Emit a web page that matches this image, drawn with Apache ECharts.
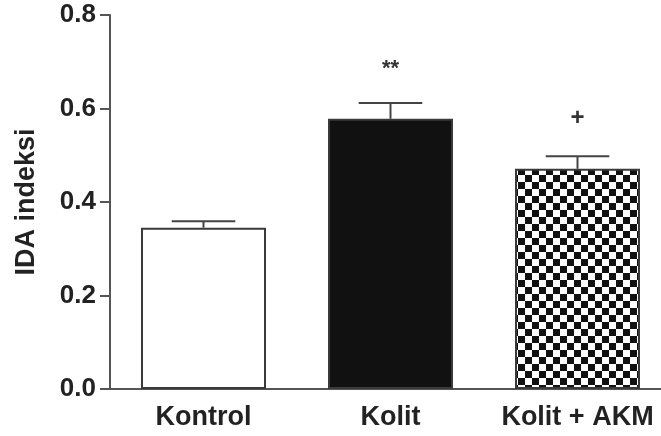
<!DOCTYPE html>
<html>
<head>
<meta charset="utf-8">
<script src="https://cdn.jsdelivr.net/npm/echarts@6/dist/echarts.min.js"></script>
<style>
html,body{margin:0;padding:0;background:#fff;}
#chart{width:661px;height:436px;}
</style>
</head>
<body>
<div id="chart"></div>
<script>
var categories = ['Kontrol', 'Kolit', 'Kolit + AKM'];
var means = [0.345, 0.578, 0.471];
var errors = [0.014, 0.034, 0.027];
var marks = ['', '**', '+'];
var markValues = [null, 0.697, 0.578];
var yTicks = [0, 0.2, 0.4, 0.6, 0.8];

var FONT = '"Liberation Sans", Arial, sans-serif';

// checkerboard pattern
var pc = document.createElement('canvas');
pc.width = 14; pc.height = 14;
var pctx = pc.getContext('2d');
pctx.fillStyle = '#ffffff';
pctx.fillRect(0, 0, 14, 14);
pctx.fillStyle = '#111111';
pctx.fillRect(0, 0, 7, 7);
pctx.fillRect(7, 7, 7, 7);

var barColors = ['#ffffff', '#111111', {image: pc, repeat: 'repeat'}];

var chart = echarts.init(document.getElementById('chart'), null, {renderer: 'canvas'});

var option = {
  animation: false,
  backgroundColor: '#ffffff',
  grid: {left: 110, top: 15, bottom: 47, width: 561, containLabel: false, outerBoundsMode: 'none'},
  xAxis: {
    type: 'category',
    data: categories,
    axisLine: {lineStyle: {color: '#555', width: 2}},
    axisTick: {show: false},
    axisLabel: {interval: 0, color: '#222', fontFamily: FONT, fontWeight: 'bold', fontSize: 27, margin: 15}
  },
  yAxis: {
    type: 'value',
    min: 0, max: 0.8, interval: 0.2,
    name: 'IDA indeksi',
    nameLocation: 'middle',
    nameGap: 70,
    nameTextStyle: {color: '#222', fontFamily: FONT, fontWeight: 'bold', fontSize: 27},
    axisLine: {show: true, lineStyle: {color: '#555', width: 2}},
    axisTick: {show: true, length: 10, lineStyle: {color: '#555', width: 2}},
    splitLine: {show: false},
    axisLabel: {
      color: '#222', fontFamily: FONT, fontWeight: 'bold', fontSize: 26, margin: 14,
      formatter: function (v) { return v.toFixed(1); }
    }
  },
  series: [
    {
      type: 'bar',
      barWidth: 125,
      data: means.map(function (v, i) {
        return {value: v, itemStyle: {color: barColors[i], borderColor: '#3a3a3a', borderWidth: 2}};
      }),
      z: 2
    },
    {
      type: 'custom',
      z: 3,
      data: means.map(function (v, i) { return [i, v, v + errors[i]]; }),
      renderItem: function (params, api) {
        var lo = api.coord([api.value(0), api.value(1)]);
        var hi = api.coord([api.value(0), api.value(2)]);
        var band = api.size([1, 0])[0];
        var hw = band * 0.17;
        var style = {stroke: '#444', lineWidth: 2};
        return {
          type: 'group',
          children: [
            {type: 'line', shape: {x1: lo[0], y1: lo[1], x2: hi[0], y2: hi[1]}, style: style},
            {type: 'line', shape: {x1: hi[0] - hw, y1: hi[1], x2: hi[0] + hw, y2: hi[1]}, style: style}
          ]
        };
      }
    },
    {
      type: 'custom',
      z: 4,
      data: markValues.map(function (v, i) { return [i, v === null ? 0 : v, marks[i]]; }),
      renderItem: function (params, api) {
        var idx = params.dataIndex;
        if (!marks[idx]) return null;
        var p = api.coord([idx, markValues[idx]]);
        var isStar = marks[idx] === '**';
        return {
          type: 'text',
          style: {
            text: marks[idx],
            x: p[0], y: p[1] + (isStar ? 6 : 0),
            align: 'center', verticalAlign: 'middle',
            fill: '#333',
            font: 'bold ' + (isStar ? 22 : 24) + 'px ' + FONT
          }
        };
      }
    }
  ]
};
chart.setOption(option);
</script>
</body>
</html>
